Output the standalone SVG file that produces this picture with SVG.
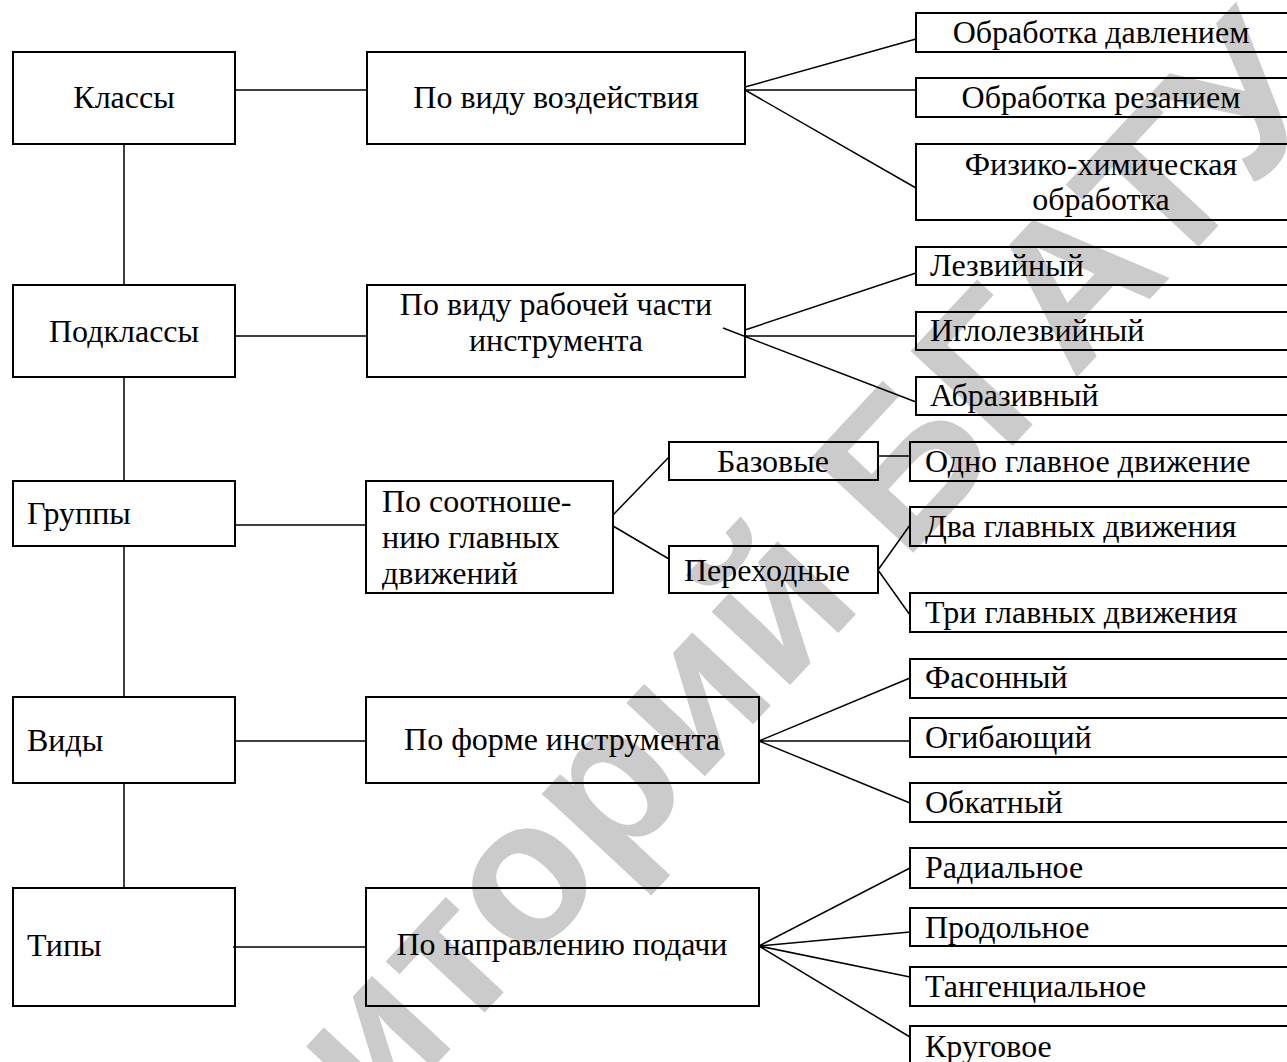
<svg xmlns="http://www.w3.org/2000/svg" width="1287" height="1062" viewBox="0 0 1287 1062">
<style>
.box{fill:none;stroke:#000;stroke-width:2}
.ln{fill:none;stroke:#000;stroke-width:1.5}
text{font-family:"Liberation Serif","Times New Roman",serif;font-size:32px;fill:#000}
.c{text-anchor:middle}
.wm{font-family:"Liberation Sans",Arial,sans-serif;font-weight:bold;font-size:203px;fill:#cbcbcb}
</style>
<rect x="0" y="0" width="1287" height="1062" fill="#fff"/>
<text class="wm" transform="translate(-26,1560) rotate(-47)">Репозиторий БГАТУ</text>
<g id="connectors">
<path class="ln" d="M235,90H367M235,336H367M235,525H366M235,741H366M233,947H366"/>
<path class="ln" d="M124,144V285M124,377V481M124,546V697M124,783V888"/>
<path class="ln" d="M745,87L916,39M745,90H916M745,90L916,188"/>
<path class="ln" d="M745,330L916,273M745,336H916M723,328L916,402"/>
<path class="ln" d="M613,515L669,457M613,526L669,559M878,456H910M878,570L910,525M878,570L910,615"/>
<path class="ln" d="M759,741L910,678M759,741H910M759,741L910,803"/>
<path class="ln" d="M759,946L910,868M759,946L910,932M759,946L910,977M759,946L910,1037"/>
</g>
<g id="klassy"><rect class="box" x="13" y="52" width="222" height="92"/><text class="c" x="124" y="108">Классы</text></g>
<g id="podklassy"><rect class="box" x="13" y="285" width="222" height="92"/><text class="c" x="124" y="342">Подклассы</text></g>
<g id="gruppy"><rect class="box" x="13" y="481" width="222" height="65"/><text x="27" y="524">Группы</text></g>
<g id="vidy"><rect class="box" x="13" y="697" width="222" height="86"/><text x="27" y="751">Виды</text></g>
<g id="tipy"><rect class="box" x="13" y="888" width="222" height="118"/><text x="27" y="956">Типы</text></g>
<g id="po-vidu-vozd"><rect class="box" x="367" y="52" width="378" height="92"/><text class="c" x="556" y="108">По виду воздействия</text></g>
<g id="po-vidu-rab"><rect class="box" x="367" y="285" width="378" height="92"/><text class="c" x="556" y="315">По виду рабочей части</text><text class="c" x="556" y="351">инструмента</text></g>
<g id="po-sootn"><rect class="box" x="366" y="481" width="247" height="112"/><text x="382" y="512">По соотноше-</text><text x="382" y="548">нию главных</text><text x="382" y="584">движений</text></g>
<g id="po-forme"><rect class="box" x="366" y="697" width="393" height="86"/><text class="c" x="562" y="750">По форме инструмента</text></g>
<g id="po-napr"><rect class="box" x="366" y="888" width="393" height="118"/><text class="c" x="562" y="955">По направлению подачи</text></g>
<g id="bazovye"><rect class="box" x="669" y="442" width="209" height="38"/><text class="c" x="773" y="472">Базовые</text></g>
<g id="perehodnye"><rect class="box" x="669" y="546" width="209" height="47"/><text x="684" y="581">Переходные</text></g>
<g id="obr-davl"><rect class="box" x="916" y="13" width="390" height="39"/><text class="c" x="1101" y="43">Обработка давлением</text></g>
<g id="obr-rez"><rect class="box" x="916" y="78" width="390" height="39"/><text class="c" x="1101" y="108">Обработка резанием</text></g>
<g id="fiz-him"><rect class="box" x="916" y="144" width="390" height="76"/><text class="c" x="1101" y="175">Физико-химическая</text><text class="c" x="1101" y="210">обработка</text></g>
<g id="lezv"><rect class="box" x="916" y="247" width="390" height="38"/><text x="930" y="276">Лезвийный</text></g>
<g id="iglolezv"><rect class="box" x="916" y="312" width="390" height="38"/><text x="930" y="341">Иглолезвийный</text></g>
<g id="abraz"><rect class="box" x="916" y="377" width="390" height="38"/><text x="930" y="406">Абразивный</text></g>
<g id="odno"><rect class="box" x="910" y="442" width="396" height="39"/><text x="925" y="472">Одно главное движение</text></g>
<g id="dva"><rect class="box" x="910" y="507" width="396" height="39"/><text x="925" y="537">Два главных движения</text></g>
<g id="tri"><rect class="box" x="910" y="593" width="396" height="39"/><text x="925" y="623">Три главных движения</text></g>
<g id="fason"><rect class="box" x="910" y="659" width="396" height="39"/><text x="925" y="688">Фасонный</text></g>
<g id="ogib"><rect class="box" x="910" y="718" width="396" height="39"/><text x="925" y="748">Огибающий</text></g>
<g id="obkat"><rect class="box" x="910" y="783" width="396" height="39"/><text x="925" y="813">Обкатный</text></g>
<g id="radial"><rect class="box" x="910" y="848" width="396" height="40"/><text x="925" y="878">Радиальное</text></g>
<g id="prodol"><rect class="box" x="910" y="908" width="396" height="38"/><text x="925" y="938">Продольное</text></g>
<g id="tangen"><rect class="box" x="910" y="967" width="396" height="39"/><text x="925" y="997">Тангенциальное</text></g>
<g id="krug"><rect class="box" x="910" y="1026" width="396" height="60"/><text x="925" y="1057">Круговое</text></g>
</svg>
